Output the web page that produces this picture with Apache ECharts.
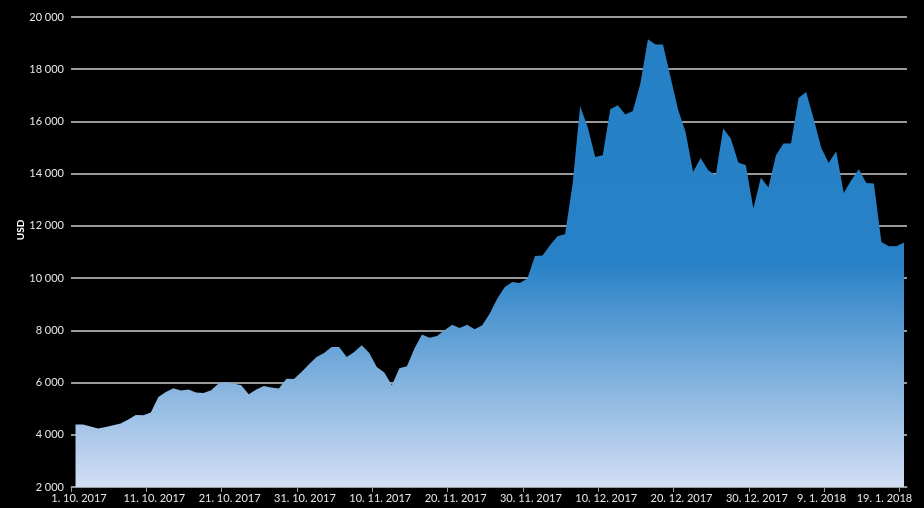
<!DOCTYPE html>
<html>
<head>
<meta charset="utf-8">
<script src="https://cdn.jsdelivr.net/npm/echarts@6/dist/echarts.min.js"></script>
<style>
  html, body { margin: 0; padding: 0; background: #000; }
  #chart { width: 924px; height: 508px; }
</style>
</head>
<body>
<div id="chart"></div>
<script>
// Daily USD values, first day 1. 10. 2017, one value per day
const startDate = [2017, 10, 1];
const usd = [
  4390, 4390, 4313, 4237, 4298, 4363, 4428, 4581, 4758, 4746,
  4849, 5447, 5639, 5780, 5692, 5730, 5615, 5600, 5703, 5960,
  6021, 5960, 5900, 5550, 5730, 5870, 5807, 5770, 6150, 6137,
  6404, 6700, 6980, 7130, 7362, 7362, 6980, 7170, 7427, 7130,
  6596, 6382, 5900, 6550, 6620, 7300, 7840, 7720, 7786, 8000,
  8218, 8090, 8218, 8040, 8193, 8640, 9215, 9660, 9851, 9813,
  9981, 10850, 10870, 11257, 11602, 11678, 13600, 16580, 15788, 14640,
  14704, 16466, 16620, 16262, 16400, 17450, 19147, 18944, 18944, 17703,
  16454, 15597, 14065, 14601, 14130, 13938, 15726, 15343, 14424, 14321,
  12663, 13850, 13467, 14704, 15152, 15152, 16900, 17130, 16109, 14999,
  14409, 14857, 13261, 13747, 14168, 13643, 13620, 11384, 11219, 11219,
  11360
];
const tickLabels = [
  '1. 10. 2017', '11. 10. 2017', '21. 10. 2017', '31. 10. 2017',
  '10. 11. 2017', '20. 11. 2017', '30. 11. 2017', '10. 12. 2017',
  '20. 12. 2017', '30. 12. 2017', '9. 1. 2018', '19. 1. 2018'
];
const yTicks = [2000, 4000, 6000, 8000, 10000, 12000, 14000, 16000, 18000, 20000];
const yAxisTitle = 'USD';

const dayOffset = 0.6; // time of day of each point
const seriesData = usd.map((v, i) => [i + dayOffset, v]);

const chart = echarts.init(document.getElementById('chart'));
const fontFamily = 'Lato, "Open Sans", sans-serif';

chart.setOption({
  backgroundColor: '#000000',
  animation: false,
  grid: { left: 71, right: 17, top: 17, bottom: 21, containLabel: false },
  graphic: [{
    type: 'text',
    x: 21,
    y: 230,
    rotation: Math.PI / 2,
    style: {
      text: yAxisTitle,
      fill: '#ffffff',
      font: 'bold 10px ' + fontFamily,
      align: 'center',
      verticalAlign: 'middle'
    }
  }],
  xAxis: {
    type: 'value',
    min: 0,
    max: 111,
    interval: 10,
    axisLine: { show: true, lineStyle: { color: '#9a9a9a', width: 1 } },
    axisTick: { show: true, length: 5, lineStyle: { color: '#9a9a9a' } },
    splitLine: { show: false },
    axisLabel: {
      showMaxLabel: false,
      margin: 6,
      color: '#e6e6e6',
      fontFamily: fontFamily,
      fontSize: 11,
      formatter: function (val) {
        const idx = Math.round(val / 10);
        if (Math.abs(val - idx * 10) > 0.01 || idx >= tickLabels.length) return '';
        const t = tickLabels[idx];
        if (idx === tickLabels.length - 1) return '{r|' + t + '}';
        if (idx === tickLabels.length - 2) return '{m|' + t + '}';
        return '{l|' + t + '}';
      },
      rich: {
        l: { padding: [0, 0, 0, 16], color: '#e6e6e6', fontFamily: fontFamily, fontSize: 11 },
        m: { padding: [0, 5, 0, 0], color: '#e6e6e6', fontFamily: fontFamily, fontSize: 11 },
        r: { padding: [0, 30, 0, 0], color: '#e6e6e6', fontFamily: fontFamily, fontSize: 11 }
      }
    }
  },
  yAxis: {
    type: 'value',
    min: yTicks[0],
    max: yTicks[yTicks.length - 1],
    interval: 2000,
    axisLine: { show: false },
    axisTick: { show: false },
    splitLine: { show: true, lineStyle: { color: '#cdcdcd', width: 1.5 } },
    axisLabel: {
      margin: 7,
      color: '#e6e6e6',
      fontFamily: fontFamily,
      fontSize: 11,
      formatter: function (v) {
        return String(v).replace(/\B(?=(\d{3})+(?!\d))/g, ' ');
      }
    }
  },
  series: [{
    type: 'line',
    data: seriesData,
    symbol: 'none',
    smooth: false,
    lineStyle: { width: 0, opacity: 0 },
    areaStyle: {
      opacity: 1,
      color: new echarts.graphic.LinearGradient(0, 0, 0, 1, [
        { offset: 0, color: '#2580c5' },
        { offset: 0.5, color: '#2881c6' },
        { offset: 1, color: '#d3def4' }
      ])
    }
  }]
});
</script>
</body>
</html>
